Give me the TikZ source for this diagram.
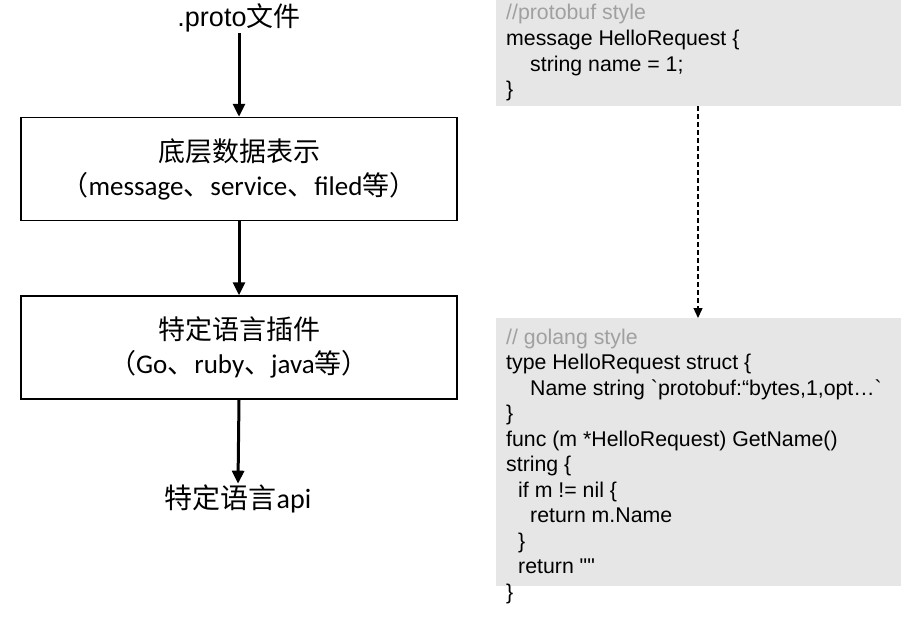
\documentclass[tikz,border=0pt]{standalone}
\usepackage{fontspec}
\setmainfont{Liberation Sans}
\newfontfamily\cjk{Noto Sans CJK SC}
\newfontfamily\calib{Carlito}
\newfontfamily\codefont{Liberation Sans}
\usetikzlibrary{arrows.meta}
\definecolor{codebg}{RGB}{230,230,230}
\definecolor{cmtgray}{RGB}{160,160,160}
\tikzset{
  flowbox/.style={draw=black, line width=1.5pt, minimum width=436pt, minimum height=103pt,
    align=center, inner sep=0pt, font=\fontsize{27}{34}\selectfont},
  flowarrow/.style={line width=3pt, -{Triangle[width=12pt,length=13pt]}},
  codebox/.style={fill=codebg, draw=none, inner sep=0pt},
  codeline/.style={anchor=base west, inner sep=0pt, font=\codefont\fontsize{21.3}{25}\selectfont},
  cmt/.style={codeline, text=cmtgray},
  dasharrow/.style={line width=1.3pt, dash pattern=on 5pt off 3pt, -{Triangle[width=9pt,length=10pt]}}
}
\begin{document}
\begin{tikzpicture}[x=1pt,y=-1pt]
\useasboundingbox (0,0) rectangle (909,618);
% left flow
\node[font=\fontsize{27}{30}\selectfont, inner sep=1pt] (proto) at (239,18) {.proto{\cjk 文件}};
\node[flowbox] (b1) at (239,169) {{\cjk 底层数据表示}\\{\cjk （}{\calib message}{\cjk 、}{\calib service}{\cjk 、}{\calib filed}{\cjk 等）}};
\node[flowbox] (b2) at (239,347.5) {{\cjk 特定语言插件}\\{\cjk （}{\calib Go}{\cjk 、}{\calib ruby}{\cjk 、}{\calib java}{\cjk 等）}};
\node[font=\fontsize{28}{30}\selectfont, inner sep=1pt] (api) at (238,499) {{\cjk 特定语言}{\calib api}};
\draw[flowarrow] (proto.south) -- (b1.north);
\draw[flowarrow] (b1.south) -- (b2.north);
\draw[flowarrow] (b2.south) -- (api.north);
% right code boxes
\node[codebox, minimum width=405pt, minimum height=106pt, anchor=north west] (c1) at (495.5,0) {};
\node[codebox, minimum width=405pt, minimum height=268pt, anchor=north west] (c2) at (495.5,318) {};
\coordinate (dashx) at (698,0);
\draw[dasharrow] (c1.south -| dashx) -- (c2.north -| dashx);
% code text box 1
\node[cmt] (t11) at (506,20) {//protobuf style};
\node[codeline] (t12) at (506,45.5) {message HelloRequest \{};
\node[codeline] (t13) at (530,71) {string name = 1;};
\node[codeline] (t14) at (506,96.5) {\}};
% code text box 2
\node[cmt] (t21) at (506,344) {// golang style};
\node[codeline] (t22) at (506,369.5) {type HelloRequest struct \{};
\node[codeline] (t23) at (530,395) {Name string \textasciigrave protobuf:“bytes,1,opt…\textasciigrave};
\node[codeline] (t24) at (506,420.5) {\}};
\node[codeline] (t25) at (506,446) {func (m *HelloRequest) GetName()};
\node[codeline] (t26) at (506,471.5) {string \{};
\node[codeline] (t27) at (518,497) {if m != nil \{};
\node[codeline] (t28) at (530,522.5) {return m.Name};
\node[codeline] (t29) at (518,548) {\}};
\node[codeline] (t210) at (518,573.5) {return ""};
\node[codeline] (t211) at (506,599) {\}};
\end{tikzpicture}
\end{document}
